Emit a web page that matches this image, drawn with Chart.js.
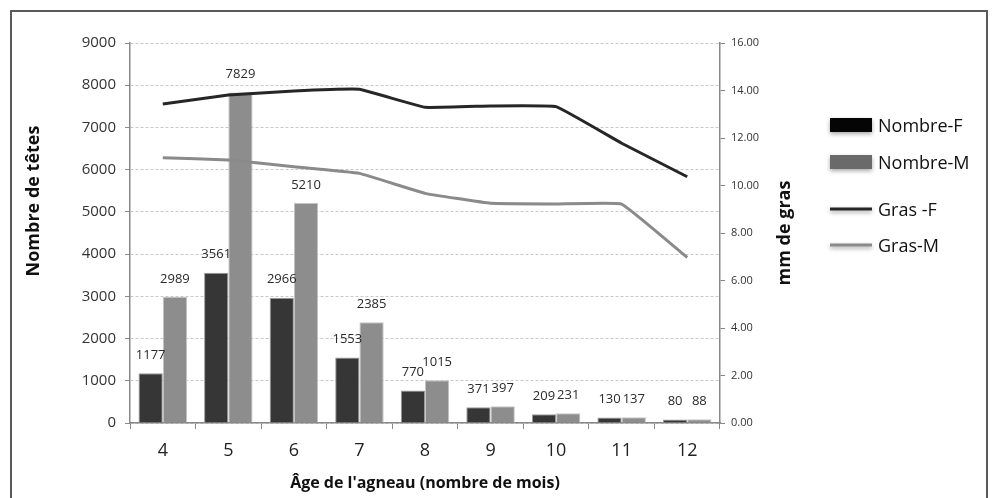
<!DOCTYPE html>
<html>
<head>
<meta charset="utf-8">
<script src="https://cdn.jsdelivr.net/npm/chart.js@4.4.1/dist/chart.umd.min.js"></script>
<style>
  html, body { margin: 0; padding: 0; background: #fff; }
  #wrap { position: relative; width: 992px; height: 498px; overflow: hidden; }
  #frame { position: absolute; left: 10px; top: 10px; width: 978px; height: 520px; border: 2px solid #5a5a5a; box-sizing: border-box; pointer-events: none; }
  canvas { position: absolute; left: 0; top: 0; }
</style>
</head>
<body>
<div id="wrap">
  <canvas id="c" width="992" height="498"></canvas>
  <div id="frame"></div>
</div>
<script>
// ---- Data ----
const ages = ['4', '5', '6', '7', '8', '9', '10', '11', '12'];
const nombreF = [1177, 3561, 2966, 1553, 770, 371, 209, 130, 80];
const nombreM = [2989, 7829, 5210, 2385, 1015, 397, 231, 137, 88];
const grasF = [13.43, 13.81, 13.98, 14.05, 13.29, 13.35, 13.32, 11.78, 10.37];
const grasM = [11.17, 11.07, 10.79, 10.51, 9.67, 9.25, 9.22, 9.22, 6.97];
const leftTicksMax = 9000;
const rightTicksMax = 16;
const seriesNames = ['Nombre-F', 'Nombre-M', 'Gras -F', 'Gras-M'];
const xTitle = "Âge de l'agneau (nombre de mois)";
const yLeftTitle = 'Nombre de têtes';
const yRightTitle = 'mm de gras';

const FONT = "'Open Sans', 'Liberation Sans', sans-serif";

const barLabels = {
  id: 'barLabels',
  afterDatasetsDraw(chart) {
    const ctx = chart.ctx;
    ctx.save();
    ctx.font = '13px ' + FONT;
    ctx.fillStyle = '#2a2a2a';
    ctx.textAlign = 'center';
    ctx.textBaseline = 'middle';
    chart.data.datasets.forEach((ds, di) => {
      if (ds.type !== 'bar') return;
      const meta = chart.getDatasetMeta(di);
      meta.data.forEach((el, i) => {
        ctx.fillText(String(ds.data[i]), el.x, el.y - 18);
      });
    });
    ctx.restore();
  }
};

function vTitle(ctx, text, x, y) {
  ctx.save();
  ctx.translate(x, y);
  ctx.rotate(-Math.PI / 2);
  ctx.font = 'bold 18px ' + FONT;
  ctx.fillStyle = '#111';
  ctx.textAlign = 'center';
  ctx.textBaseline = 'middle';
  ctx.fillText(text, 0, 0);
  ctx.restore();
}

const extras = {
  id: 'extras',
  afterDraw(chart) {
    const ctx = chart.ctx;
    const ca = chart.chartArea;
    const mid = (ca.top + ca.bottom) / 2;
    vTitle(ctx, yLeftTitle, 34, mid - 32);
    vTitle(ctx, yRightTitle, ca.right + 65, mid);

    // legend
    const ys = [125, 162, 209, 245];
    const x0 = 830, w = 42;
    chart.data.datasets.forEach((ds, di) => {
      const y = ys[di];
      ctx.save();
      ctx.shadowColor = 'rgba(0,0,0,0.35)';
      ctx.shadowBlur = 4;
      ctx.shadowOffsetY = 2;
      if (ds.type === 'bar') {
        ctx.fillStyle = ds.legendColor || ds.backgroundColor;
        ctx.fillRect(x0, y - 7, w, 14);
      } else {
        ctx.strokeStyle = ds.borderColor;
        ctx.lineWidth = 3;
        ctx.beginPath();
        ctx.moveTo(x0, y);
        ctx.lineTo(x0 + w, y);
        ctx.stroke();
      }
      ctx.restore();
      ctx.save();
      ctx.font = '18px ' + FONT;
      ctx.fillStyle = '#111';
      ctx.textBaseline = 'middle';
      ctx.textAlign = 'left';
      ctx.fillText(ds.label, x0 + w + 6, y + 2);
      ctx.restore();
    });
  }
};

new Chart(document.getElementById('c'), {
  data: {
    labels: ages,
    datasets: [
      { type: 'bar', label: seriesNames[0], data: nombreF, yAxisID: 'y',
        backgroundColor: '#363636', borderColor: '#9a9a9a', borderWidth: 1,
        legendColor: '#050505', order: 1,
        categoryPercentage: 0.74, barPercentage: 1.0 },
      { type: 'bar', label: seriesNames[1], data: nombreM, yAxisID: 'y',
        backgroundColor: '#8d8d8d', borderColor: '#c4c4c4', borderWidth: 1,
        legendColor: '#6a6a6a', order: 1,
        categoryPercentage: 0.74, barPercentage: 1.0 },
      { type: 'line', label: seriesNames[2], data: grasF, yAxisID: 'y1',
        borderColor: '#262626', borderWidth: 3, pointRadius: 0, tension: 0.08, order: 0 },
      { type: 'line', label: seriesNames[3], data: grasM, yAxisID: 'y1',
        borderColor: '#8a8a8a', borderWidth: 3, pointRadius: 0, tension: 0.08, order: 0 }
    ]
  },
  options: {
    responsive: false,
    animation: false,
    layout: { padding: { left: 20, right: 182, top: 43, bottom: 0 } },
    plugins: { legend: { display: false }, tooltip: { enabled: false } },
    scales: {
      x: {
        offset: true,
        grid: { display: true, drawOnChartArea: false, drawTicks: true, tickLength: 6, tickColor: '#888', offset: true },
        border: { display: true, color: '#888', width: 1.5 },
        ticks: { font: { family: FONT, size: 18 }, color: '#222', padding: 11 },
        title: { display: true, text: xTitle, font: { family: FONT, size: 16, weight: 'bold' }, color: '#111', padding: { top: 0, bottom: 5 } },
        afterFit(s) { s.height = 75; }
      },
      y: {
        position: 'left', min: 0, max: leftTicksMax,
        ticks: { stepSize: 1000, font: { family: FONT, size: 15 }, color: '#333', padding: 9,
                 callback: v => String(v) },
        grid: { color: '#c8c8c8', lineWidth: 1, tickLength: 5, tickColor: '#888', drawTicks: true },
        border: { display: true, color: '#888', width: 1.5, dash: [3, 2] },
        afterFit(s) { s.width = 110; }
      },
      y1: {
        position: 'right', min: 0, max: rightTicksMax,
        ticks: { stepSize: 2, font: { family: FONT, size: 11 }, color: '#333', padding: 6,
                 callback: v => Number(v).toFixed(2) },
        grid: { drawOnChartArea: false, tickLength: 5, tickColor: '#888', drawTicks: true },
        border: { display: true, color: '#888', width: 1.5 },
        afterFit(s) { s.width = 90; }
      }
    }
  },
  plugins: [barLabels, extras]
});
</script>
</body>
</html>
